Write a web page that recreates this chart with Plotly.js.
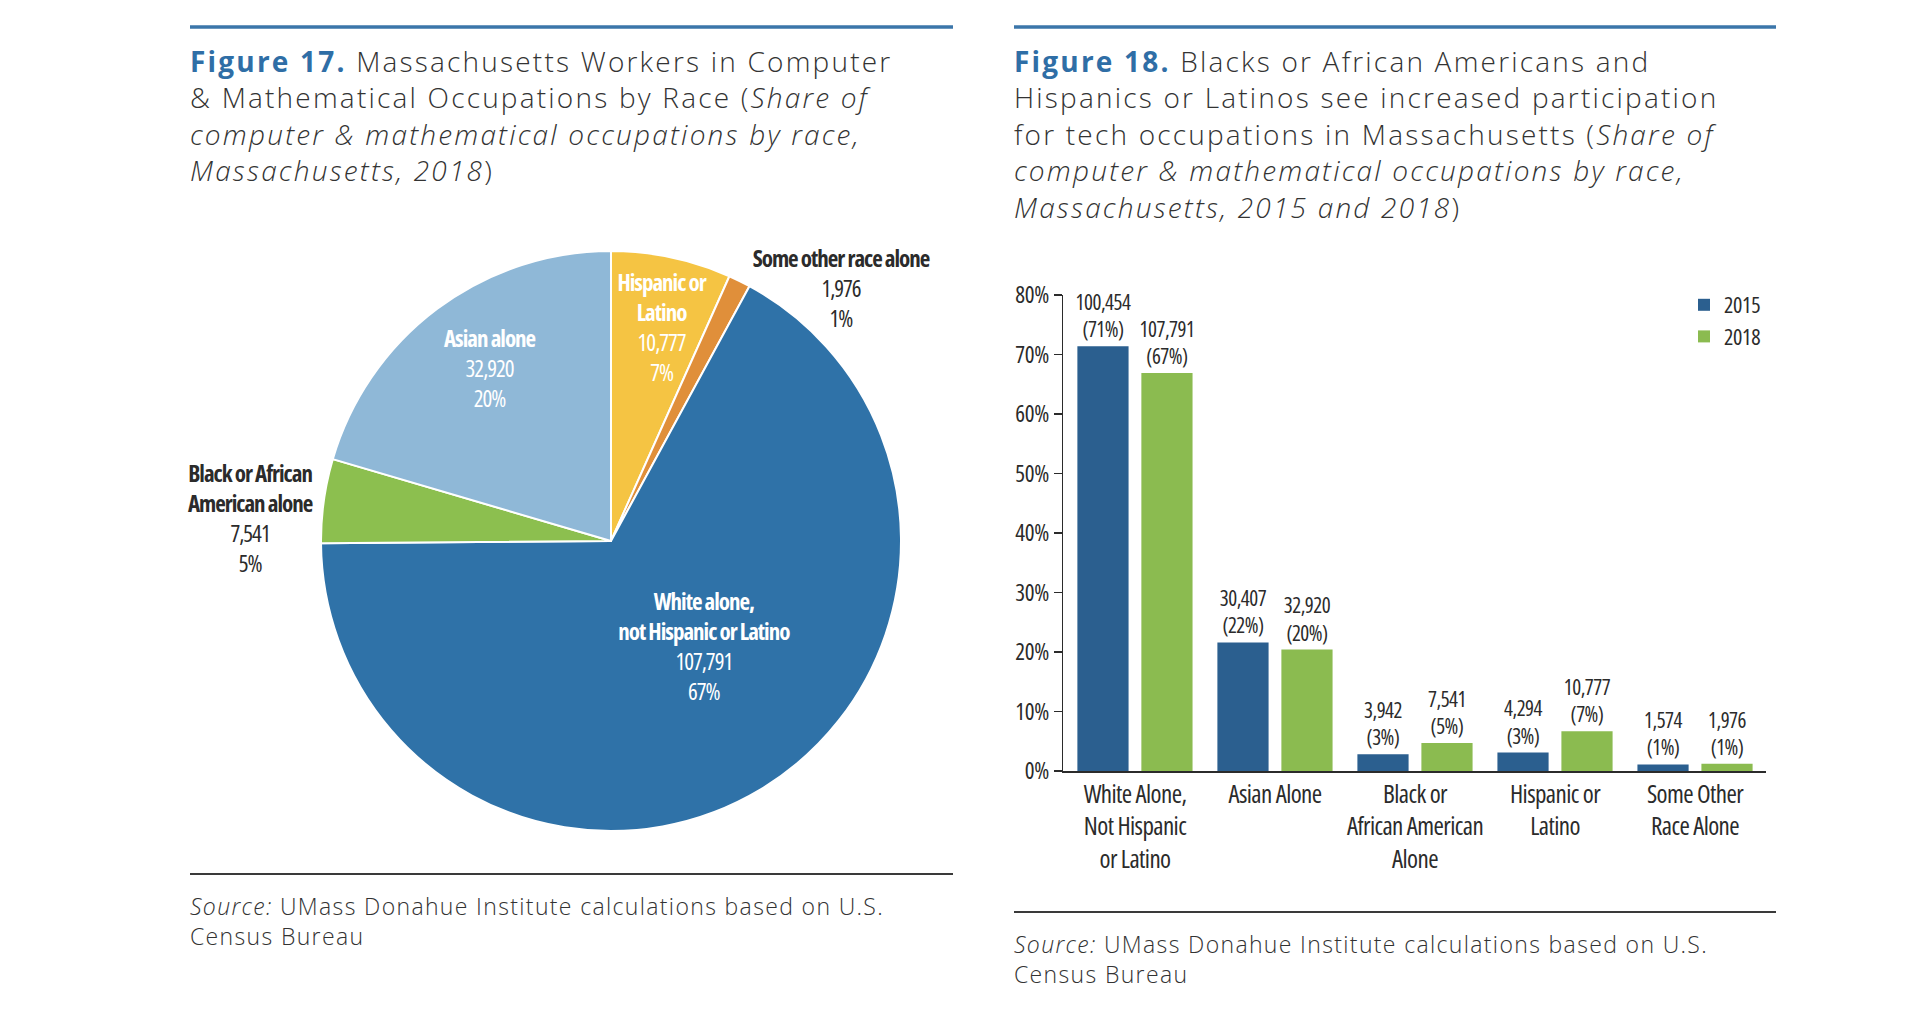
<!DOCTYPE html>
<html>
<head>
<meta charset="utf-8">
<script src="https://cdn.plot.ly/plotly-3.0.1.min.js"></script>
<style>
  html, body { margin: 0; padding: 0; background: #ffffff; }
  #chart { width: 1920px; height: 1013px; }
  /* condensed look for the chart labels (the original uses a condensed face) */
  #chart g.xtick text { font-stretch: 75%; letter-spacing: -0.6px; }
  #chart g.ytick text, #chart text.legendtext { font-stretch: 75%; letter-spacing: -0.3px; }
  #chart text.bartext { font-stretch: 75%; letter-spacing: -0.5px; }
  #chart g.annotation[data-index="4"] text, #chart g.annotation[data-index="5"] text,
  #chart g.annotation[data-index="6"] text, #chart g.annotation[data-index="7"] text,
  #chart g.annotation[data-index="8"] text { font-stretch: 75%; letter-spacing: -1px; }
  #chart g.annotation[data-index="0"] text, #chart g.annotation[data-index="1"] text { letter-spacing: 2.2px; }
  #chart g.annotation[data-index="2"] text, #chart g.annotation[data-index="3"] text { letter-spacing: 1.35px; }
</style>
</head>
<body>
<div id="chart"></div>
<script>
// ---------- DATA ----------
// Figure 17 (pie), in drawing order clockwise from 12 o'clock
const pieLabels = ["Hispanic or Latino", "Some other race alone", "White alone, not Hispanic or Latino", "Black or African American alone", "Asian alone"];
const pieCounts = [10777, 1976, 107791, 7541, 32920];
const piePercents = ["7%", "1%", "67%", "5%", "20%"];

// Figure 18 (grouped bars)
const barCategories = ["White Alone,<br>Not Hispanic<br>or Latino", "Asian Alone", "Black or<br>African American<br>Alone", "Hispanic or<br>Latino", "Some Other<br>Race Alone"];
const share2015 = [71.4, 21.6, 2.8, 3.1, 1.1];
const share2018 = [66.9, 20.4, 4.7, 6.7, 1.2];
const count2015 = [100454, 30407, 3942, 4294, 1574];
const count2018 = [107791, 32920, 7541, 10777, 1976];
const yTickVals = [0, 10, 20, 30, 40, 50, 60, 70, 80];
const yTickText = ["0%", "10%", "20%", "30%", "40%", "50%", "60%", "70%", "80%"];

// ---------- STYLE ----------
const W = 1920, H = 1013;
const px = x => x / W;
const py = y => 1 - y / H;
const TITLE_FONT = "'Open Sans', 'Noto Sans', sans-serif";
const COND_FONT = "'Open Sans', 'Noto Sans', sans-serif";
const DARK = "#2b2b2b";
const RULE_BLUE = "#3b76aa";
const FIG_BLUE = "#2f6ea6";

const pieColors = ["#f5c443", "#e08f3a", "#2f72a8", "#8cbf4f", "#8fb8d7"];
const c2015 = "#2b5f8f";
const c2018 = "#8bbb50";

const fmt = n => n.toLocaleString("en-US");

// ---------- TRACES ----------
const pieTrace = {
  type: "pie",
  labels: pieLabels,
  values: pieCounts,
  sort: false,
  direction: "clockwise",
  rotation: 0,
  textinfo: "none",
  hoverinfo: "label+value+percent",
  showlegend: false,
  marker: { colors: pieColors, line: { color: "#ffffff", width: 2 } },
  domain: { x: [px(321), px(901)], y: [py(831), py(251)] }
};

function barTrace(name, ys, counts, color) {
  return {
    type: "bar",
    name: name,
    x: barCategories,
    y: ys,
    customdata: counts,
    marker: { color: color },
    texttemplate: "%{customdata:,}<br>(%{y:.0f}%)",
    textposition: "outside",
    constraintext: "none",
    cliponaxis: false,
    textfont: { family: COND_FONT, size: 21, color: DARK },
    hoverinfo: "x+y"
  };
}
const bar2015 = barTrace("2015", share2015, count2015, c2015);
const bar2018 = barTrace("2018", share2018, count2018, c2018);

// ---------- ANNOTATIONS ----------
const pieNameLines = {
  "White alone, not Hispanic or Latino": "White alone,<br>not Hispanic or Latino",
  "Hispanic or Latino": "Hispanic or<br>Latino",
  "Black or African American alone": "Black or African<br>American alone"
};
function pieLabel(i, x, y, color) {
  const name = pieNameLines[pieLabels[i]] || pieLabels[i];
  return {
    xref: "paper", yref: "paper", x: px(x), y: py(y),
    xanchor: "center", yanchor: "middle", align: "center", showarrow: false,
    text: "<b>" + name + "</b><br>" + fmt(pieCounts[i]) + "<br>" + piePercents[i],
    font: { family: COND_FONT, size: 23, color: color }
  };
}

const annotations = [
  {
    xref: "paper", yref: "paper", x: px(188), y: py(40), xanchor: "left", yanchor: "top", align: "left", showarrow: false,
    text: "<b><span style='color:" + FIG_BLUE + "'>Figure 17.</span></b> Massachusetts Workers in Computer<br>& Mathematical Occupations by Race (<i>Share of</i><br><i>computer & mathematical occupations by race,</i><br><i>Massachusetts, 2018</i>)",
    font: { family: TITLE_FONT, size: 28, color: "#333333", weight: 300 }
  },
  {
    xref: "paper", yref: "paper", x: px(1012), y: py(40), xanchor: "left", yanchor: "top", align: "left", showarrow: false,
    text: "<b><span style='color:" + FIG_BLUE + "'>Figure 18.</span></b> Blacks or African Americans and<br>Hispanics or Latinos see increased participation<br>for tech occupations in Massachusetts (<i>Share of</i><br><i>computer & mathematical occupations by race,</i><br><i>Massachusetts, 2015 and 2018</i>)",
    font: { family: TITLE_FONT, size: 28, color: "#333333", weight: 300 }
  },
  {
    xref: "paper", yref: "paper", x: px(188), y: py(888), xanchor: "left", yanchor: "top", align: "left", showarrow: false,
    text: "<i>Source:</i> UMass Donahue Institute calculations based on U.S.<br>Census Bureau",
    font: { family: TITLE_FONT, size: 23, color: "#333333", weight: 300 }
  },
  {
    xref: "paper", yref: "paper", x: px(1012), y: py(926), xanchor: "left", yanchor: "top", align: "left", showarrow: false,
    text: "<i>Source:</i> UMass Donahue Institute calculations based on U.S.<br>Census Bureau",
    font: { family: TITLE_FONT, size: 23, color: "#333333", weight: 300 }
  },
  pieLabel(0, 661, 327, "#ffffff"),
  pieLabel(1, 841, 288, DARK),
  pieLabel(2, 704, 646, "#ffffff"),
  pieLabel(3, 250, 518, DARK),
  pieLabel(4, 490, 368, "#ffffff")
];

// ---------- SHAPES (rules) ----------
const shapes = [
  { type: "line", xref: "paper", yref: "paper", x0: px(190), x1: px(953), y0: py(27), y1: py(27), line: { color: RULE_BLUE, width: 3.5 } },
  { type: "line", xref: "paper", yref: "paper", x0: px(1014), x1: px(1776), y0: py(27), y1: py(27), line: { color: RULE_BLUE, width: 3.5 } },
  { type: "line", xref: "paper", yref: "paper", x0: px(190), x1: px(953), y0: py(874), y1: py(874), line: { color: "#3a3a3a", width: 2 } },
  { type: "line", xref: "paper", yref: "paper", x0: px(1014), x1: px(1776), y0: py(912), y1: py(912), line: { color: "#3a3a3a", width: 2 } }
];

// ---------- LAYOUT ----------
const layout = {
  width: W, height: H,
  margin: { l: 0, r: 0, t: 0, b: 0 },
  paper_bgcolor: "#ffffff",
  plot_bgcolor: "#ffffff",
  barmode: "group",
  bargap: 0.086,
  bargroupgap: 0.2,
  showlegend: true,
  legend: {
    x: px(1684), y: py(284), xanchor: "left", yanchor: "top",
    font: { family: COND_FONT, size: 22, color: DARK },
    bgcolor: "rgba(0,0,0,0)", itemwidth: 30, tracegroupgap: 8
  },
  xaxis: {
    domain: [px(1063), px(1766)],
    type: "category",
    range: [-0.514, 4.507],
    tickangle: 0,
    showline: true, linecolor: DARK, linewidth: 1.5,
    ticks: "", showgrid: false, zeroline: false,
    tickfont: { family: COND_FONT, size: 25, color: DARK },
    fixedrange: true
  },
  yaxis: {
    domain: [py(771), py(295)],
    range: [0, 80],
    tickvals: yTickVals, ticktext: yTickText,
    showline: true, linecolor: DARK, linewidth: 1.5,
    ticks: "outside", ticklen: 8, tickcolor: DARK, tickwidth: 1.5,
    showgrid: false, zeroline: false,
    tickfont: { family: COND_FONT, size: 23, color: DARK },
    fixedrange: true
  },
  annotations: annotations,
  shapes: shapes
};

Plotly.newPlot("chart", [pieTrace, bar2015, bar2018], layout, { displayModeBar: false, staticPlot: true });
</script>
</body>
</html>
